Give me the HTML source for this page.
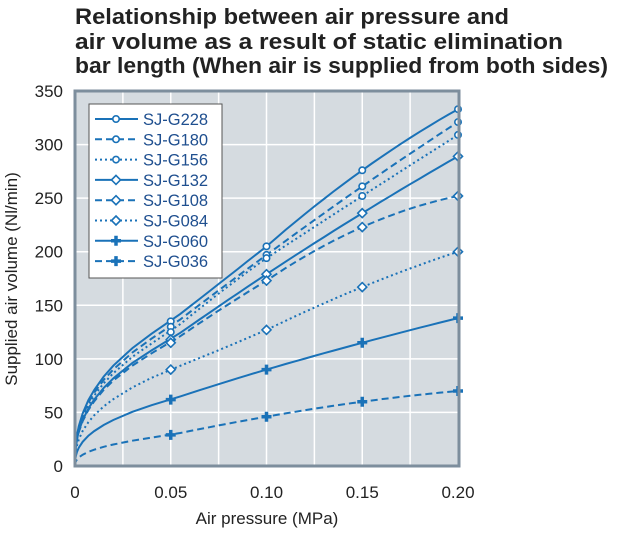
<!DOCTYPE html>
<html><head><meta charset="utf-8"><style>
body{margin:0;background:#fff;width:621px;height:529px;overflow:hidden}
svg{font-family:"Liberation Sans",sans-serif}
</style></head><body>
<svg id="s" width="621" height="529" xmlns="http://www.w3.org/2000/svg">
<text x="75" y="24" font-size="22.5" font-weight="bold" fill="#222" textLength="434" lengthAdjust="spacingAndGlyphs">Relationship between air pressure and</text>
<text x="75" y="49" font-size="22.5" font-weight="bold" fill="#222" textLength="488" lengthAdjust="spacingAndGlyphs">air volume as a result of static elimination</text>
<text x="75" y="73" font-size="22.5" font-weight="bold" fill="#222" textLength="533" lengthAdjust="spacingAndGlyphs">bar length (When air is supplied from both sides)</text>
<rect x="75" y="91" width="384" height="375" fill="#d5dbe0"/>
<g id="grid" stroke="#fff" stroke-width="1.5"></g>
<g id="curves" fill="none" stroke="#1a72b8" stroke-width="2"></g>
<rect x="75" y="91" width="384" height="375" fill="none" stroke="#7d8e9d" stroke-width="3"/>
<rect x="89" y="104" width="133" height="174" fill="#fff" stroke="#555" stroke-width="1"/>
<g id="leg"></g>
<g font-size="17" fill="#222" text-anchor="end" id="yl"></g>
<g font-size="17" fill="#222" text-anchor="middle" id="xl"></g>
<text x="267" y="524" font-size="17" fill="#222" text-anchor="middle">Air pressure (MPa)</text>
<text transform="translate(17,279) rotate(-90)" font-size="17" fill="#222" text-anchor="middle">Supplied air volume (Nl/min)</text>
</svg>
<script>
var NS="http://www.w3.org/2000/svg";
function el(p,t,a,txt){var e=document.createElementNS(NS,t);for(var k in a)e.setAttribute(k,a[k]);if(txt!=null)e.textContent=txt;document.getElementById(p).appendChild(e);return e;}
function X(v){return 75+v/0.2*383;}function Y(v){return 466-v*375/350;}
for(var i=1;i<8;i++){el("grid","line",{x1:X(i*0.025),x2:X(i*0.025),y1:91,y2:466});}
for(var i=1;i<7;i++){el("grid","line",{x1:75,x2:459,y1:Y(i*50),y2:Y(i*50)});}
for(var i=0;i<=7;i++)el("yl","text",{x:63,y:Y(i*50)+6},String(i*50));
["0","0.05","0.10","0.15","0.20"].forEach(function(t,i){el("xl","text",{x:X(i*0.05),y:498},t);});
var S=[
[[135,205,276,333],"","o"],[[130,197,261,321],"7,4","o"],[[125,194,252,309],"2,3","o"],
[[118,179,236,289],"","d"],[[115,173,223,252],"7,4","d"],[[90,127,167,200],"2,3","d"],
[[62,90,115,138],"","p"],[[29,46,60,70],"7,4","p"]];
var names=["SJ-G228","SJ-G180","SJ-G156","SJ-G132","SJ-G108","SJ-G084","SJ-G060","SJ-G036"];
function mark(g,t,x,y){
 if(t=="o")el(g,"circle",{cx:x,cy:y,r:3.2,fill:"#fff",stroke:"#1a72b8","stroke-width":1.6,"stroke-dasharray":"none"});
 else if(t=="d")el(g,"path",{d:"M"+x+","+(y-4.5)+"l4.5,4.5l-4.5,4.5l-4.5,-4.5z",fill:"#fff",stroke:"#1a72b8","stroke-width":1.6,"stroke-dasharray":"none"});
 else el(g,"path",{d:"M"+(x-5)+","+y+"h10M"+x+","+(y-5)+"v10",stroke:"#1a72b8","stroke-width":3.5,"stroke-dasharray":"none"});
}
S.forEach(function(s,k){
 var v=s[0],d="M75,466";
 var sm=[0.0002,0.0005,0.001,0.002,0.004,0.007,0.01,0.015,0.02,0.03,0.04];
 sm.forEach(function(x){d+=" L"+X(x).toFixed(1)+","+Y(v[0]*Math.pow(x/0.05,0.4)).toFixed(1);});
 var pts=[[0.05,v[0]],[0.1,v[1]],[0.15,v[2]],[0.2,v[3]]];
 for(var i=0;i<3;i++){for(var j=1;j<=10;j++){var t=j/10,x=0.05+0.05*(i+t);
   var i0=Math.min(i,1),a=pts[i0],b=pts[i0+1],c=pts[i0+2];
   var y=a[1]*(x-b[0])*(x-c[0])/((a[0]-b[0])*(a[0]-c[0]))+b[1]*(x-a[0])*(x-c[0])/((b[0]-a[0])*(b[0]-c[0]))+c[1]*(x-a[0])*(x-b[0])/((c[0]-a[0])*(c[0]-b[0]));
   d+=" L"+X(x).toFixed(1)+","+Y(y).toFixed(1);}}
 var p=el("curves","path",{d:d});if(s[1])p.setAttribute("stroke-dasharray",s[1]);
 pts.forEach(function(q){mark("curves",s[2],X(q[0]),Y(q[1]));});
 var ly=119+k*20.3;
 var l=el("leg","line",{x1:95,x2:138,y1:ly,y2:ly,stroke:"#1a72b8","stroke-width":2});if(s[1])l.setAttribute("stroke-dasharray",s[1]);
 mark("leg",s[2],116,ly);
 el("leg","text",{x:143,y:ly+6,"font-size":16.5,fill:"#1f4f8f"},names[k]);
});
</script>
</body></html>
